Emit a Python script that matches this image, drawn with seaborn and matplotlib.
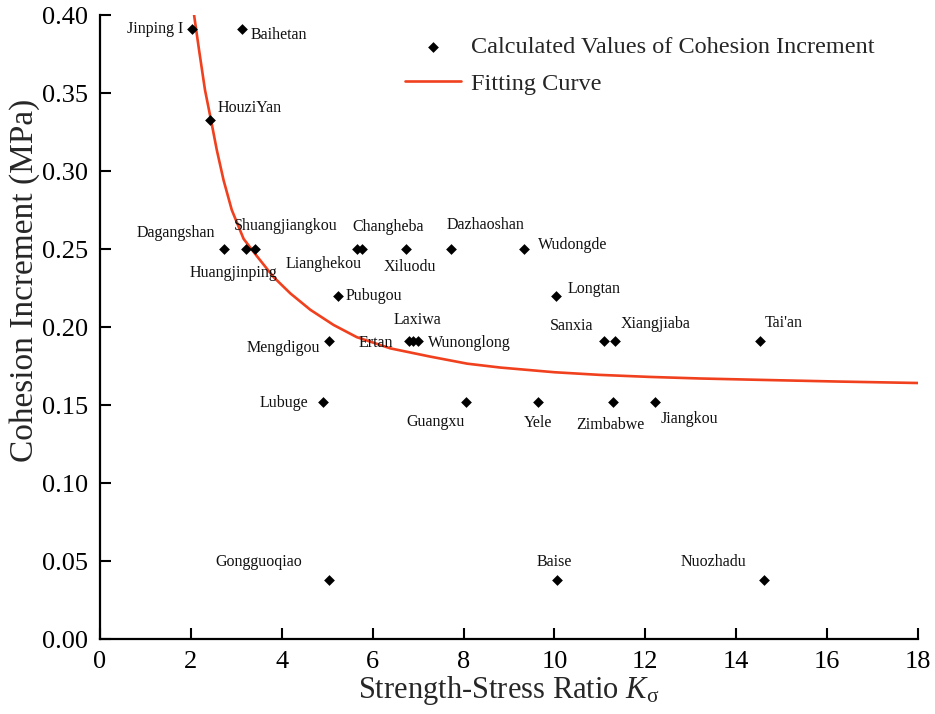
import matplotlib
matplotlib.use("Agg")
import matplotlib.pyplot as plt
import seaborn as sns
import pandas as pd

# ---- data ----
names = ["Jinping I", "Baihetan", "HouziYan", "Dagangshan", "Huangjinping",
         "Shuangjiangkou", "Lianghekou", "Changheba", "Xiluodu", "Dazhaoshan",
         "Wudongde", "Pubugou", "Longtan", "Mengdigou", "Ertan", "Laxiwa",
         "Wunonglong", "Sanxia", "Xiangjiaba", "Tai'an", "Lubuge", "Guangxu",
         "Yele", "Zimbabwe", "Jiangkou", "Gongguoqiao", "Baise", "Nuozhadu"]
k_sigma = [2.02, 3.13, 2.42, 2.73, 3.22,
           3.40, 5.66, 5.77, 6.74, 7.73,
           9.32, 5.24, 10.04, 5.04, 6.81, 6.89,
           7.00, 11.10, 11.34, 14.52, 4.91, 8.06,
           9.63, 11.28, 12.22, 5.04, 10.06, 14.62]
cohesion = [0.391, 0.391, 0.333, 0.250, 0.250,
            0.250, 0.250, 0.250, 0.250, 0.250,
            0.250, 0.220, 0.220, 0.191, 0.191, 0.191,
            0.191, 0.191, 0.191, 0.191, 0.152, 0.152,
            0.152, 0.152, 0.152, 0.038, 0.038, 0.038]

curve_x = [2.07, 2.18, 2.31, 2.44, 2.57, 2.72, 2.90, 3.16, 3.45, 3.82, 4.19,
           4.63, 5.14, 5.65, 6.39, 7.27, 8.08, 8.81, 10.0, 11.0, 12.1, 13.2,
           14.7, 16.3, 18.0]
curve_y = [0.400, 0.3775, 0.352, 0.333, 0.3135, 0.294, 0.275, 0.2565, 0.2455,
           0.232, 0.2215, 0.211, 0.2013, 0.1935, 0.1863, 0.1810, 0.1765, 0.1740,
           0.1710, 0.1693, 0.1680, 0.1670, 0.1660, 0.1650, 0.1641]

x_ticks = [0, 2, 4, 6, 8, 10, 12, 14, 16, 18]
y_ticks = [0.00, 0.05, 0.10, 0.15, 0.20, 0.25, 0.30, 0.35, 0.40]

# label placement (offset in pixels, horizontal alignment) -- layout only
label_layout = [(-9, 0, "right"), (8, -6, "left"), (8, 12, "left"), (-9, 16, "right"),
                (-13, -24, "center"), (31, 23, "center"), (-34, -15, "center"),
                (26, 22, "center"), (4, -18, "center"), (34, 24, "center"),
                (14, 4, "left"), (7, 0, "left"), (11, 7, "left"), (-9, -7, "right"),
                (-16, -2, "right"), (4, 21, "center"), (10, -2, "left"),
                (-11, 15, "right"), (5, 17, "left"), (5, 18, "left"),
                (-15, -1, "right"), (-31, -20, "center"), (0, -21, "center"),
                (-2, -23, "center"), (5, -17, "left"), (-27, 18, "right"),
                (-3, 18, "center"), (-18, 18, "right")]

pts = pd.DataFrame({"K": k_sigma, "C": cohesion, "name": names})
fit = pd.DataFrame({"K": curve_x, "C": curve_y})

sns.set_theme(style="ticks")
plt.rcParams["font.family"] = ["Liberation Serif", "DejaVu Serif"]
plt.rcParams["mathtext.fontset"] = "custom"
plt.rcParams["mathtext.rm"] = "Liberation Serif"
plt.rcParams["mathtext.it"] = "Liberation Serif:italic"

fig = plt.figure(figsize=(9.35, 7.14), dpi=100)
ax = fig.add_axes([100 / 935, 1 - 639 / 714, 818 / 935, 624 / 714])

sns.scatterplot(data=pts, x="K", y="C", marker="D", s=30, color="black",
                edgecolor="black", linewidth=0, ax=ax, zorder=3,
                label="Calculated Values of Cohesion Increment")
sns.lineplot(data=fit, x="K", y="C", sort=False, estimator=None, color="#F0401E",
             linewidth=1.9, ax=ax, zorder=2, label="Fitting Curve")

for (x, y, n), (dx, dy, ha) in zip(zip(k_sigma, cohesion, names), label_layout):
    ax.annotate(n, (x, y), xytext=(dx, dy), textcoords="offset pixels",
                ha=ha, va="center", fontsize=11.5, color="#111111")

ax.set_xlim(0, 18)
ax.set_ylim(0, 0.40)
ax.set_xticks(x_ticks)
ax.set_yticks(y_ticks)
ax.set_xticklabels([str(t) for t in x_ticks])
ax.set_yticklabels([f"{t:.2f}" for t in y_ticks])
ax.tick_params(direction="in", length=8, width=1.5, labelsize=19, colors="black", pad=8.5)
for s in ["top", "right"]:
    ax.spines[s].set_visible(False)
for s in ["left", "bottom"]:
    ax.spines[s].set_linewidth(1.6)
    ax.spines[s].set_color("black")

ax.set_xlabel(r"Strength-Stress Ratio $K_{\mathrm{σ}}$", fontsize=22, labelpad=1)
ax.set_ylabel("Cohesion Increment (MPa)", fontsize=24)
ax.yaxis.set_label_coords(-0.0733, 0.575)

leg = ax.legend(loc="upper left", bbox_to_anchor=((405 - 100) / 818, (639 - 36) / 624),
                frameon=False, fontsize=17.5, handlelength=2.3, handletextpad=0.4,
                labelspacing=0.6, borderpad=0, borderaxespad=0, markerscale=1.0)

fig.savefig("out.png", dpi=100)
